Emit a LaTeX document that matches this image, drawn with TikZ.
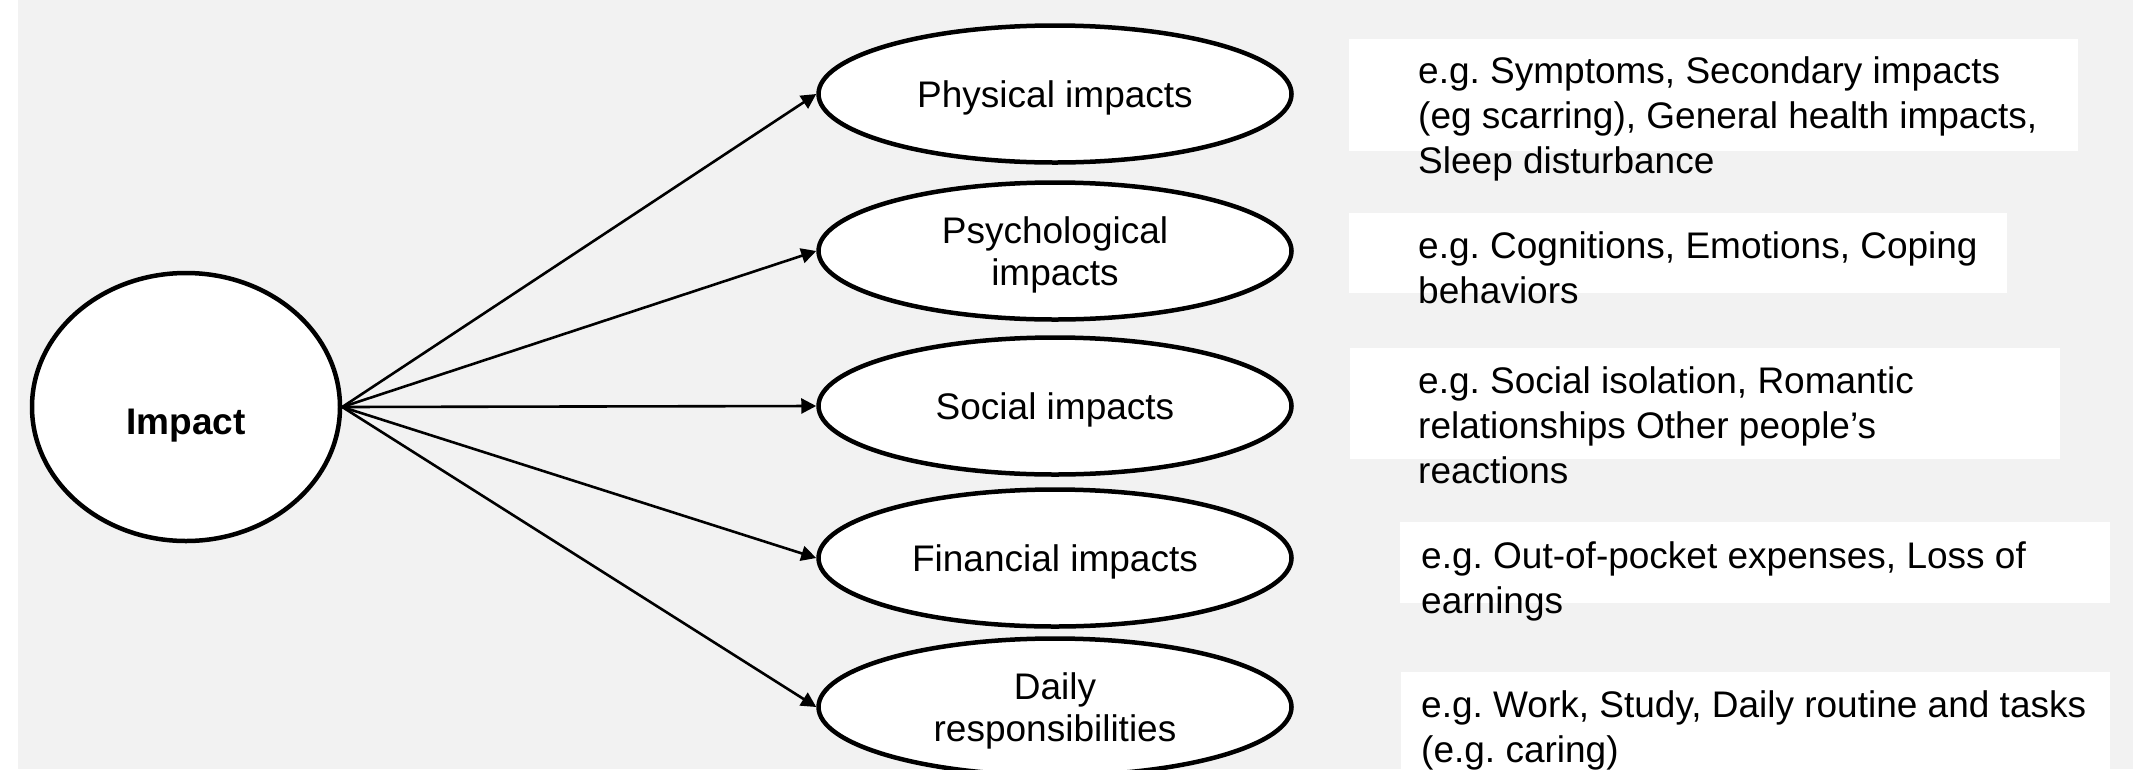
\documentclass[tikz,border=0pt]{standalone}
\usepackage{fontspec}
\setmainfont{Liberation Sans}
\usetikzlibrary{arrows.meta,shapes.geometric}
\definecolor{bggray}{HTML}{F2F2F2}
\frenchspacing
\begin{document}
\begin{tikzpicture}[x=1pt,y=-1pt,
  oval/.style={ellipse, draw=black, line width=4.5pt, fill=white,
    minimum width=473pt, minimum height=137pt, inner sep=0pt,
    align=center, text depth=0pt, font=\fontsize{37}{42}\selectfont},
  conn/.style={line width=2.6pt, -{Triangle[length=15pt,width=15pt]}},
  exbox/.style={fill=white, inner sep=0pt, outer sep=0pt, anchor=north west},
  extext/.style={anchor=base west, inner sep=0pt, font=\fontsize{37}{45}\selectfont}]
\useasboundingbox (0,0) rectangle (2133,769);
\clip (0,0) rectangle (2133,769);
\fill[white] (0,0) rectangle (2133,769);
\fill[bggray] (18,0) rectangle (2133,769);

% example boxes
\node[exbox, minimum width=729pt, minimum height=112pt] (b1) at (1349,39) {};
\node[exbox, minimum width=658pt, minimum height=80pt] (b2) at (1349,213) {};
\node[exbox, minimum width=710pt, minimum height=111pt] (b3) at (1350,348) {};
\node[exbox, minimum width=710pt, minimum height=81pt] (b4) at (1400,522) {};
\node[exbox, minimum width=709pt, minimum height=97pt] (b5) at (1401,672) {};

\node[extext] (t1) at (1418,83) {\begin{tabular}[t]{@{}l@{}}e.g. Symptoms, Secondary impacts\\(eg scarring), General health impacts,\\Sleep disturbance\end{tabular}};
\node[extext] (t2) at (1418,258) {\begin{tabular}[t]{@{}l@{}}e.g. Cognitions, Emotions, Coping\\behaviors\end{tabular}};
\node[extext] (t3) at (1418,393) {\begin{tabular}[t]{@{}l@{}}e.g. Social isolation, Romantic\\relationships Other people’s\\reactions\end{tabular}};
\node[extext] (t4) at (1421,568) {\begin{tabular}[t]{@{}l@{}}e.g. Out-of-pocket expenses, Loss of\\earnings\end{tabular}};
\node[extext] (t5) at (1421,717) {\begin{tabular}[t]{@{}l@{}}e.g. Work, Study, Daily routine and tasks\\(e.g. caring)\end{tabular}};

% central node
\node[ellipse, draw=black, line width=4.5pt, fill=white, minimum width=308pt, minimum height=268pt, inner sep=0pt] (imp) at (186,407) {};
\node[anchor=base, inner sep=0pt, font=\fontsize{37}{42}\selectfont\bfseries] (implbl) at (186,434) {Impact};

% categories
\node[oval] (phys) at (1055,94) {Physical impacts};
\node[oval] (psy) at (1055,251) {Psychological\\impacts};
\node[oval] (soc) at (1055,406) {Social impacts};
\node[oval] (fin) at (1055,558) {Financial impacts};
\node[oval] (daily) at (1055,707) {Daily\\responsibilities};

% connectors
\draw[conn] (imp.east) -- (phys.west);
\draw[conn] (imp.east) -- (psy.west);
\draw[conn] (imp.east) -- (soc.west);
\draw[conn] (imp.east) -- (fin.west);
\draw[conn] (imp.east) -- (daily.west);
\end{tikzpicture}
\end{document}
